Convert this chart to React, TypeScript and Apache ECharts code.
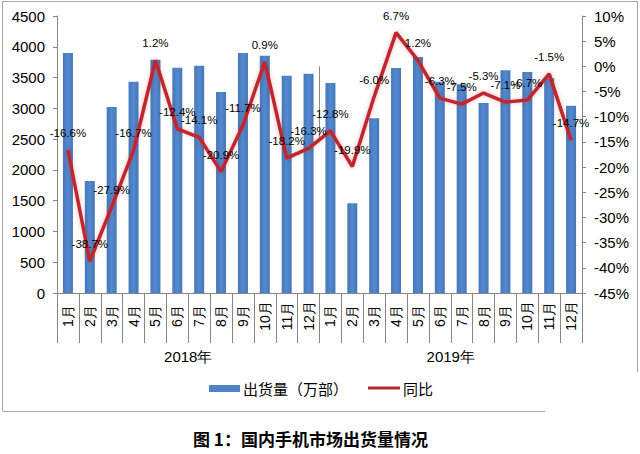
import React, { useEffect, useRef } from "react";
import * as echarts from "echarts";

const months = [
  "1月", "2月", "3月", "4月", "5月", "6月", "7月", "8月", "9月", "10月", "11月", "12月",
  "1月", "2月", "3月", "4月", "5月", "6月", "7月", "8月", "9月", "10月", "11月", "12月",
];
const years = ["2018年", "2019年"];
const shipments = [
  3900, 1820, 3020, 3430, 3790, 3660, 3690, 3265, 3900, 3855, 3530, 3560,
  3410, 1460, 2840, 3655, 3835, 3430, 3390, 3085, 3620, 3590, 3490, 3040,
];
const yoy = [
  -16.6, -38.7, -27.9, -16.7, 1.2, -12.4, -14.1, -20.9, -11.7, 0.9, -18.2, -16.3,
  -12.8, -19.9, -6.0, 6.7, 1.2, -6.3, -7.5, -5.3, -7.1, -6.7, -1.5, -14.7,
];
const legendNames = ["出货量（万部）", "同比"];
const title = "图 1：国内手机市场出货量情况";

const axisColor = "#868686";
const numFont = "'Liberation Sans', Arial, sans-serif";
const cjkFont = "'Noto Sans CJK SC', sans-serif";

export default function App() {
  const ref = useRef<HTMLDivElement>(null);
  useEffect(() => {
    if (!ref.current) return;
    const chart = echarts.init(ref.current, undefined, { renderer: "svg" });
    chart.setOption({
      animation: false,
      backgroundColor: "#ffffff",
      grid: { left: 57, right: 58, top: 16, bottom: 161, containLabel: false },
      xAxis: [
        {
          type: "category",
          data: months,
          position: "bottom",
          axisLine: { show: true, lineStyle: { color: axisColor, width: 1 } },
          axisTick: { show: true, interval: 0, length: 50, lineStyle: { color: axisColor } },
          axisLabel: {
            interval: 0,
            rotate: 90,
            align: "center",
            margin: 23,
            fontSize: 14,
            color: "#000",
            fontFamily: numFont,
          },
        },
        {
          type: "category",
          data: years,
          position: "bottom",
          axisLine: { show: false },
          axisTick: { show: true, interval: 0, length: 74, lineStyle: { color: axisColor } },
          axisLabel: {
            margin: 56,
            fontSize: 15,
            color: "#000",
            fontFamily: numFont,
          },
        },
      ],
      yAxis: [
        {
          type: "value",
          min: 0,
          max: 4500,
          interval: 500,
          position: "left",
          axisLine: { show: true, lineStyle: { color: axisColor } },
          axisTick: { show: true, length: 4, lineStyle: { color: axisColor } },
          splitLine: { show: false },
          axisLabel: {
            fontSize: 15,
            color: "#000",
            margin: 12,
            fontFamily: numFont,
            formatter: (v: number) => String(v),
          },
        },
        {
          type: "value",
          min: -45,
          max: 10,
          interval: 5,
          position: "right",
          axisLine: { show: true, lineStyle: { color: axisColor } },
          axisTick: { show: true, length: 4, lineStyle: { color: axisColor } },
          splitLine: { show: false },
          axisLabel: {
            fontSize: 15,
            color: "#000",
            margin: 12,
            fontFamily: numFont,
            formatter: (v: number) => String(v) + "%",
          },
        },
      ],
      series: [
        {
          name: legendNames[0],
          type: "bar",
          xAxisIndex: 0,
          yAxisIndex: 0,
          data: shipments,
          barWidth: 10,
          itemStyle: {
            color: new echarts.graphic.LinearGradient(0, 0, 1, 0, [
              { offset: 0, color: "#4677b8" },
              { offset: 0.5, color: "#5289cf" },
              { offset: 1, color: "#4677b8" },
            ]),
          },
        },
        {
          name: legendNames[1],
          type: "line",
          xAxisIndex: 0,
          yAxisIndex: 1,
          data: yoy,
          symbol: "circle",
          symbolSize: 2,
          showSymbol: true,
          lineStyle: {
            color: "#c0262d",
            width: 3.5,
            shadowColor: "rgba(192,38,45,0.35)",
            shadowBlur: 4,
          },
          itemStyle: { color: "rgba(192,38,45,0)" },
          label: {
            show: true,
            position: "top",
            distance: 10,
            fontSize: 11.5,
            color: "#000",
            fontFamily: numFont,
            formatter: (p: any) => Number(p.value).toFixed(1) + "%",
          },
          labelLayout: { hideOverlap: false },
          z: 5,
        },
      ],
      graphic: [
        {
          type: "rect",
          shape: { x: 2.5, y: 1.5, width: 635, height: 410 },
          style: { fill: "none", stroke: "#a6a6a6", lineWidth: 1 },
          silent: true,
          z: -10,
        },
        {
          type: "rect",
          shape: { x: 209, y: 385, width: 31, height: 7 },
          style: { fill: "#4f83c6" },
        },
        {
          type: "text",
          x: 243,
          y: 388,
          style: {
            text: legendNames[0],
            fontSize: 15,
            fontFamily: cjkFont,
            fill: "#000",
            verticalAlign: "middle",
          },
        },
        {
          type: "line",
          shape: { x1: 368, y1: 388, x2: 400, y2: 388 },
          style: { stroke: "#b3282e", lineWidth: 3 },
        },
        {
          type: "text",
          x: 403,
          y: 388,
          style: {
            text: legendNames[1],
            fontSize: 15,
            fontFamily: cjkFont,
            fill: "#000",
            verticalAlign: "middle",
          },
        },
        {
          type: "text",
          x: 193,
          y: 438,
          style: {
            text: title,
            fontSize: 17,
            fontWeight: "bold",
            fontFamily: cjkFont,
            fill: "#000",
            verticalAlign: "middle",
          },
        },
        {
          type: "rect",
          shape: { x: 545, y: 372, width: 95, height: 82 },
          style: { fill: "#ffffff" },
          z: 10,
        },
        {
          type: "group",
          z: 11,
          children: [
            { type: "rect", shape: { x: 588, y: 381, width: 13, height: 13 }, style: { fill: "#f35325" } },
            { type: "rect", shape: { x: 603, y: 381, width: 13, height: 13 }, style: { fill: "#81bc06" } },
            { type: "rect", shape: { x: 588, y: 396, width: 13, height: 13 }, style: { fill: "#05a6f0" } },
            { type: "rect", shape: { x: 603, y: 396, width: 13, height: 13 }, style: { fill: "#ffba08" } },
            {
              type: "text",
              x: 596,
              y: 424,
              style: {
                text: "系统粉",
                fontSize: 24,
                fontWeight: "bold",
                fontFamily: cjkFont,
                fill: "#3a3a3a",
                align: "center",
                verticalAlign: "middle",
              },
            },
            {
              type: "text",
              x: 595,
              y: 446,
              style: {
                text: "www.win7999.com",
                fontSize: 10,
                fontFamily: numFont,
                fill: "#333",
                align: "center",
                verticalAlign: "middle",
              },
            },
          ],
        },
      ],
    });
    return () => chart.dispose();
  }, []);
  return (
    <div
      ref={ref}
      style={{ position: "fixed", left: 0, top: 0, width: 640, height: 454 }}
    />
  );
}
